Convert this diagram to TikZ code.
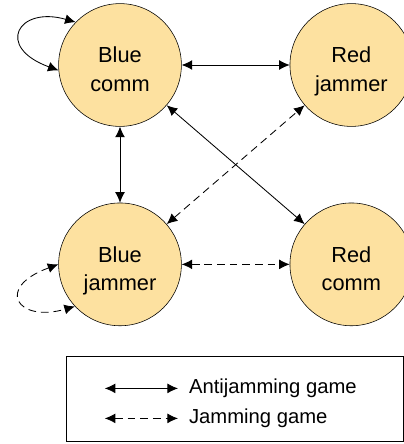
\documentclass[tikz,border=0pt]{standalone}
\usepackage{fontspec}
\setmainfont{Liberation Sans}
\usetikzlibrary{arrows.meta}
\usetikzlibrary{positioning}

\definecolor{nodefill}{RGB}{253,225,160}

\begin{document}
\begin{tikzpicture}[node distance=2.7cm,auto,line width=0.6pt,>={Latex[length=7.5pt,width=7pt]},
    jam/.style={dash pattern=on 5.5pt off 3.5pt},
    player/.style={circle,draw,thin,fill=nodefill,minimum size=3.07cm,inner sep=0pt,align=center,
      text height=37pt,text depth=0pt,font=\fontsize{15.5}{20}\selectfont}]
      \useasboundingbox (0,0) rectangle (10.1,11.1);
      \node[player] (BC) at (3.0,9.475) {Blue\\comm};
      \node[player] (RJ) [right=2.7cm of BC] {Red\\jammer};
      \node[player] (BJ) [below=1.9cm of BC] {Blue\\jammer};
      \node[player] (RC) [right=2.7cm of BJ] {Red\\comm};
      \draw[<->] (BC) -- (RJ);
      \draw[<->] (BC) -- (BJ);
      \draw[<->] (BC) -- (RC);
      \draw[<->,jam] (BJ) -- (RJ);
      \draw[<->,jam] (BJ) -- (RC);
      \draw[<->] (BC.136) .. controls +(164:1.5) and +(160:1.7) .. (BC.185);
      \draw[<->,jam] (BJ.180) .. controls +(200:1.7) and +(196:1.5) .. (BJ.223);
      % legend
      \node (legend) [draw,thin,minimum width=8.43cm,minimum height=2.13cm,anchor=south west] at (1.65,0.05) {};
      \coordinate (a1) at (2.62,1.39);
      \coordinate (a2) at (4.45,1.39);
      \coordinate (j1) at (2.62,0.64);
      \coordinate (j2) at (4.45,0.64);
      \draw[<->] (a1) -- (a2);
      \draw[<->,jam] (j1) -- (j2);
      \node (antijam) [right=0.15cm of a2,font=\fontsize{14.4}{17}\selectfont] {Antijamming game};
      \node (jam) [right=0.15cm of j2,font=\fontsize{14.4}{17}\selectfont] {Jamming game};
    \end{tikzpicture}
\end{document}
